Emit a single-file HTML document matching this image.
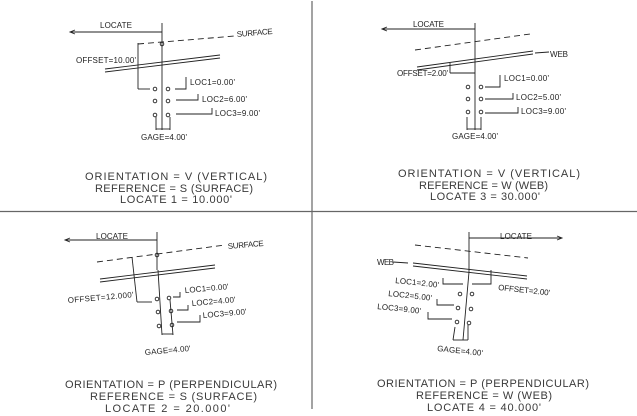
<!DOCTYPE html>
<html><head><meta charset="utf-8"><style>
html,body{margin:0;padding:0;background:#fff;width:637px;height:416px;overflow:hidden}
svg{display:block}
text{font-family:"Liberation Sans",sans-serif;fill:#222}
.s{font-size:8px}
.b{font-size:11px;fill:#3a3a3a}
</style></head><body>
<svg width="637" height="416" viewBox="0 0 637 416" xmlns="http://www.w3.org/2000/svg">
<g stroke="#666" stroke-width="1.2" fill="none">
<line x1="312" y1="1" x2="312" y2="409"/>
<line x1="0" y1="211.5" x2="637" y2="211.5"/>
</g>
<g stroke="#222" stroke-width="0.9" fill="none">
<!-- Panel 1 -->
<line x1="70" y1="32" x2="162" y2="32"/>
<polyline points="75,30 70,32 75,34" />
<line x1="162" y1="23" x2="162" y2="130"/>
<line x1="138" y1="44" x2="235" y2="36" stroke-dasharray="6,4"/>
<circle cx="162" cy="44" r="1.8"/>
<line x1="105" y1="69" x2="220" y2="55"/>
<line x1="105" y1="72" x2="220" y2="58"/>
<line x1="138" y1="43" x2="138" y2="89"/>
<line x1="138" y1="89" x2="150" y2="89"/>
<circle cx="155" cy="89" r="1.8"/><circle cx="168" cy="89" r="1.8"/>
<circle cx="155" cy="101" r="1.8"/><circle cx="168" cy="101" r="1.8"/>
<circle cx="155" cy="115" r="1.8"/><circle cx="168" cy="115" r="1.8"/>
<polyline points="175,89 186,89 186,77"/>
<polyline points="176,100 198,100 198,94"/>
<polyline points="176,114 212,114 212,108"/>
<line x1="156" y1="117" x2="156" y2="130"/>
<line x1="170" y1="117" x2="170" y2="130"/>
<line x1="156" y1="129" x2="170" y2="129"/>
<!-- Panel 2 -->
<line x1="382" y1="29" x2="475" y2="29"/>
<polyline points="387,27 382,29 387,31"/>
<line x1="475" y1="23" x2="475" y2="130"/>
<line x1="415" y1="50" x2="530" y2="34" stroke-dasharray="6,4"/>
<line x1="417" y1="67" x2="533" y2="51"/>
<line x1="417" y1="70" x2="533" y2="54"/>
<line x1="535" y1="53" x2="549" y2="52"/>
<line x1="450" y1="63" x2="450" y2="73"/>
<line x1="450" y1="73" x2="475" y2="73"/>
<polyline points="485,87 500,87 500,75"/>
<circle cx="468" cy="87" r="1.8"/><circle cx="481" cy="87" r="1.8"/>
<circle cx="468" cy="99" r="1.8"/><circle cx="481" cy="99" r="1.8"/>
<circle cx="468" cy="112" r="1.8"/><circle cx="481" cy="112" r="1.8"/>
<polyline points="485,99 513,99 513,93"/>
<polyline points="485,113 518,113 518,107"/>
<line x1="467" y1="117" x2="467" y2="130"/>
<line x1="481" y1="117" x2="481" y2="130"/>
<line x1="467" y1="129" x2="481" y2="129"/>
<!-- Panel 3 -->
<line x1="65" y1="240" x2="157" y2="240"/>
<polyline points="70,238 65,240 70,242"/>
<line x1="157" y1="232" x2="157" y2="270"/>
<line x1="158" y1="270" x2="162" y2="335"/>
<line x1="170" y1="300" x2="173" y2="335"/>
<line x1="97" y1="262" x2="225" y2="245" stroke-dasharray="6,4"/>
<circle cx="157" cy="255" r="1.8"/>
<line x1="100" y1="279" x2="215" y2="265"/>
<line x1="100" y1="282" x2="215" y2="268"/>
<line x1="132" y1="257" x2="137" y2="302"/>
<line x1="137" y1="302" x2="152" y2="302"/>
<circle cx="157" cy="299" r="1.8"/><circle cx="169" cy="298" r="1.8"/>
<circle cx="158" cy="312" r="1.8"/><circle cx="171" cy="311" r="1.8"/>
<circle cx="159" cy="326" r="1.8"/><circle cx="172" cy="325" r="1.8"/>
<polyline points="173,297 180,297 180,292"/>
<polyline points="177,310 188,310 188,305"/>
<polyline points="177,322 200,322 200,315"/>
<line x1="162" y1="334" x2="173" y2="334"/>
<!-- Panel 4 -->
<line x1="469" y1="238" x2="562" y2="238"/>
<polyline points="557,236 562,238 557,240"/>
<line x1="469" y1="232" x2="469" y2="272"/>
<line x1="469" y1="272" x2="463" y2="340"/>
<line x1="468" y1="325" x2="468" y2="340"/>
<line x1="455" y1="327" x2="453" y2="340"/>
<line x1="453" y1="340" x2="468" y2="340"/>
<line x1="415" y1="245" x2="528" y2="258" stroke-dasharray="6,4"/>
<line x1="413" y1="263" x2="527" y2="276"/>
<line x1="413" y1="266" x2="527" y2="279"/>
<line x1="393" y1="262" x2="408" y2="263"/>
<polyline points="472,284 491,284 491,270"/>
<polyline points="443,278 443,284 463,284"/>
<circle cx="460" cy="294" r="1.8"/><circle cx="472" cy="294" r="1.8"/>
<circle cx="458" cy="308" r="1.8"/><circle cx="471" cy="309" r="1.8"/>
<circle cx="457" cy="322" r="1.8"/><circle cx="469" cy="323" r="1.8"/>
<polyline points="437,299 437,305 454,305"/>
<polyline points="428,312 428,319 452,319"/>
</g>
<!-- small labels -->
<text class="s" x="100" y="28" textLength="32">LOCATE</text>
<text class="s" x="237" y="37" transform="rotate(-5 237 37)" textLength="36">SURFACE</text>
<text class="s" x="76" y="63" textLength="60">OFFSET=10.00'</text>
<text class="s" x="190" y="85" textLength="45">LOC1=0.00'</text>
<text class="s" x="202" y="102" textLength="45">LOC2=6.00'</text>
<text class="s" x="215" y="116" textLength="45">LOC3=9.00'</text>
<text class="s" x="141" y="140" textLength="46">GAGE=4.00'</text>

<text class="s" x="413" y="27" textLength="31">LOCATE</text>
<text class="s" x="550" y="57" textLength="18">WEB</text>
<text class="s" x="397" y="76" textLength="51">OFFSET=2.00'</text>
<text class="s" x="504" y="81" textLength="45">LOC1=0.00'</text>
<text class="s" x="516" y="100" textLength="45">LOC2=5.00'</text>
<text class="s" x="521" y="114" textLength="45">LOC3=9.00'</text>
<text class="s" x="452" y="139" textLength="46">GAGE=4.00'</text>

<text class="s" x="96" y="239" textLength="32">LOCATE</text>
<text class="s" x="228" y="249" transform="rotate(-5 228 249)" textLength="36">SURFACE</text>
<text class="s" x="68" y="303" transform="rotate(-5 68 303)" textLength="66">OFFSET=12.000'</text>
<text class="s" x="185" y="293" transform="rotate(-5 185 293)" textLength="44">LOC1=0.00'</text>
<text class="s" x="192" y="306" transform="rotate(-5 192 306)" textLength="44">LOC2=4.00'</text>
<text class="s" x="203" y="318" transform="rotate(-5 203 318)" textLength="44">LOC3=9.00'</text>
<text class="s" x="145" y="355" transform="rotate(-5 145 355)" textLength="46">GAGE=4.00'</text>

<text class="s" x="500" y="239" textLength="32">LOCATE</text>
<text class="s" x="377" y="265" textLength="17">WEB</text>
<text class="s" x="498" y="290" transform="rotate(6 498 290)" textLength="52">OFFSET=2.00'</text>
<text class="s" x="395" y="283" transform="rotate(6 395 283)" textLength="44">LOC1=2.00'</text>
<text class="s" x="388" y="296" transform="rotate(6 388 296)" textLength="44">LOC2=5.00'</text>
<text class="s" x="377" y="309" transform="rotate(6 377 309)" textLength="44">LOC3=9.00'</text>
<text class="s" x="437" y="351" transform="rotate(6 437 351)" textLength="46">GAGE=4.00'</text>

<!-- big labels -->
<text class="b" x="85" y="180" textLength="182">ORIENTATION = V (VERTICAL)</text>
<text class="b" x="95" y="192" textLength="158">REFERENCE = S (SURFACE)</text>
<text class="b" x="120" y="203" textLength="112">LOCATE 1 = 10.000'</text>

<text class="b" x="398" y="177" textLength="182">ORIENTATION = V (VERTICAL)</text>
<text class="b" x="419" y="189" textLength="129">REFERENCE = W (WEB)</text>
<text class="b" x="430" y="200" textLength="110">LOCATE 3 = 30.000'</text>

<text class="b" x="65" y="388" textLength="212">ORIENTATION = P (PERPENDICULAR)</text>
<text class="b" x="90" y="400" textLength="167">REFERENCE = S (SURFACE)</text>
<text class="b" x="105" y="412" textLength="125">LOCATE 2 = 20.000'</text>

<text class="b" x="377" y="387" textLength="212">ORIENTATION = P (PERPENDICULAR)</text>
<text class="b" x="416" y="399" textLength="136">REFERENCE = W (WEB)</text>
<text class="b" x="427" y="411" textLength="114">LOCATE 4 = 40.000'</text>
</svg>
</body></html>
